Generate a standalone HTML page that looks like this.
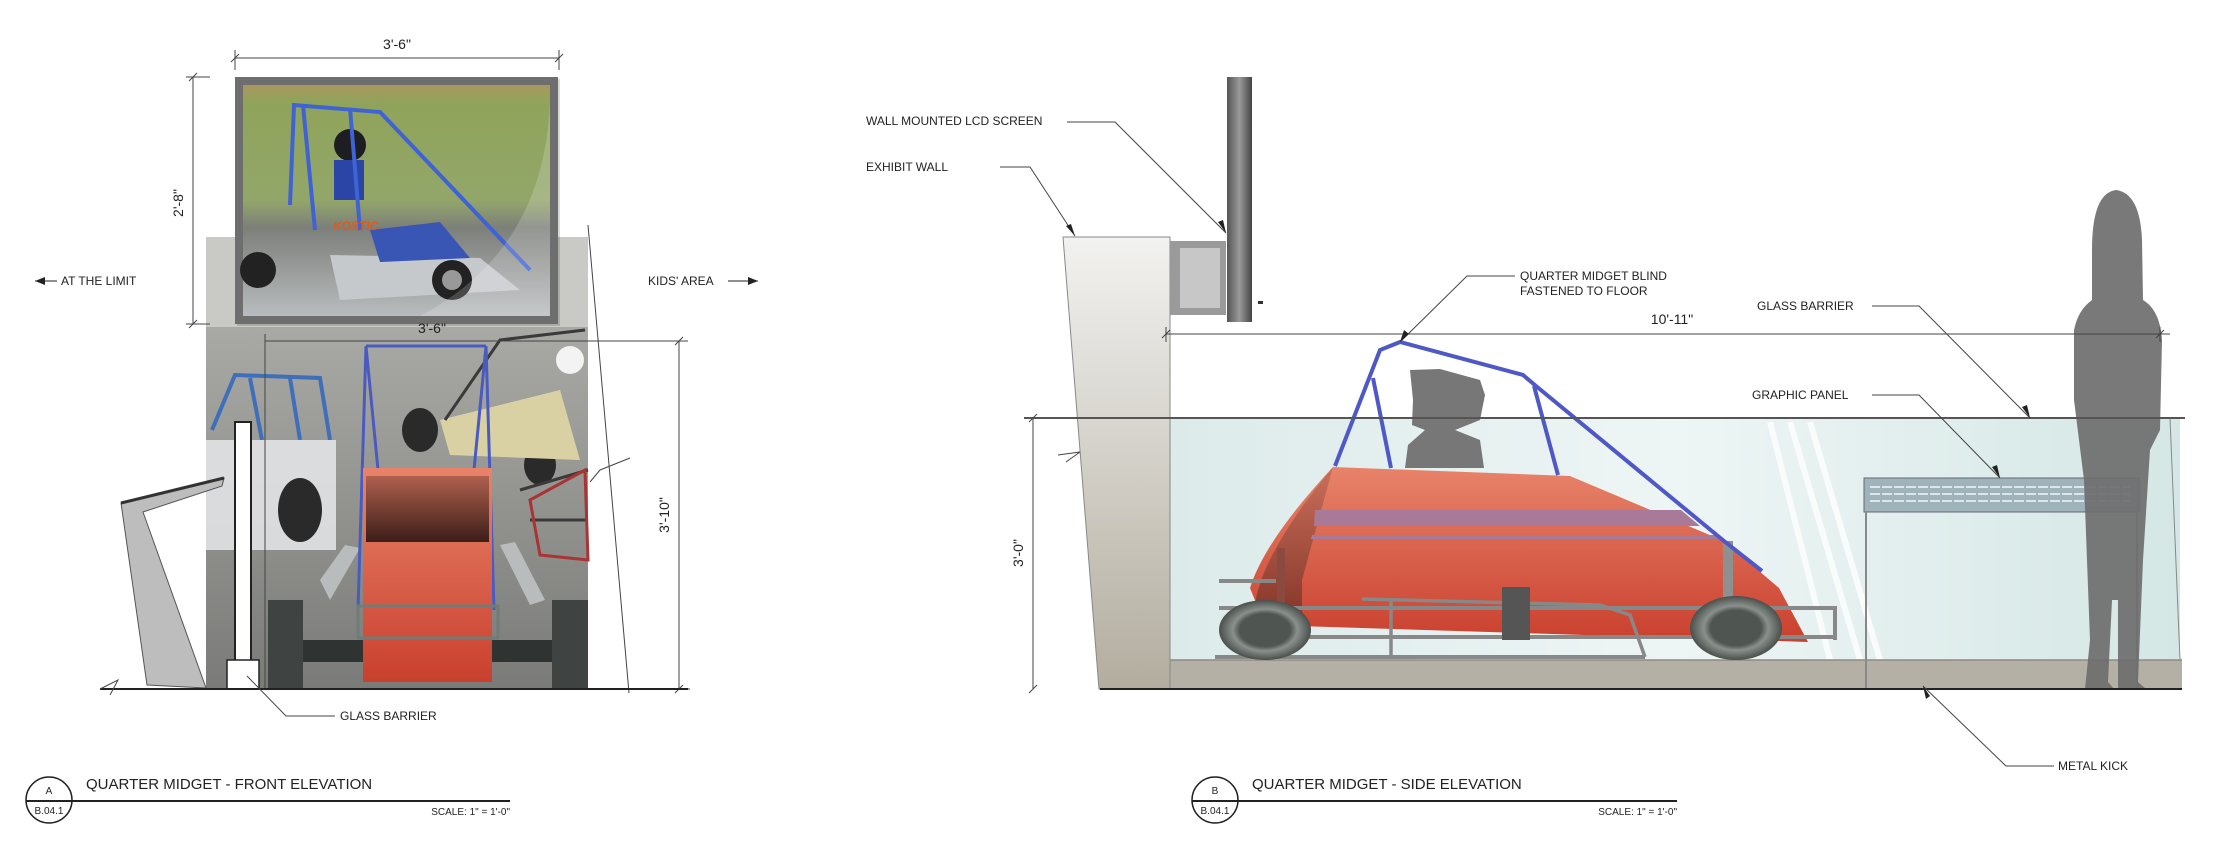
<!DOCTYPE html>
<html><head><meta charset="utf-8"><style>
html,body{margin:0;padding:0;background:#fff;}
svg{display:block;font-family:"Liberation Sans",Arial,sans-serif;}
</style></head><body>
<svg width="2228" height="850" viewBox="0 0 2228 850" xmlns="http://www.w3.org/2000/svg">
<defs>
<linearGradient id="bg" x1="0" y1="0" x2="0" y2="1"><stop offset="0" stop-color="#b3b4af"/><stop offset="0.5" stop-color="#989995"/><stop offset="1" stop-color="#7a7b78"/></linearGradient>
<linearGradient id="scr" x1="0" y1="0" x2="0" y2="1"><stop offset="0" stop-color="#a9985e"/><stop offset="0.08" stop-color="#8fa45a"/><stop offset="0.5" stop-color="#93a66a"/><stop offset="0.62" stop-color="#7c7f7a"/><stop offset="1" stop-color="#b9bcbe"/></linearGradient>
<linearGradient id="red" x1="0" y1="0" x2="0" y2="1"><stop offset="0" stop-color="#e8836a"/><stop offset="1" stop-color="#c9402e"/></linearGradient>
<linearGradient id="redd" x1="0" y1="0" x2="0" y2="1"><stop offset="0" stop-color="#b0604e"/><stop offset="1" stop-color="#3b1e18"/></linearGradient>
<linearGradient id="wall" x1="0" y1="0" x2="0" y2="1"><stop offset="0" stop-color="#f2f2f0"/><stop offset="1" stop-color="#b3ad9f"/></linearGradient>
<linearGradient id="glass" x1="0" y1="0" x2="1" y2="0"><stop offset="0" stop-color="#dcebea"/><stop offset="0.5" stop-color="#eef5f5"/><stop offset="1" stop-color="#d4e7e5"/></linearGradient>
<linearGradient id="scrn" x1="0" y1="0" x2="1" y2="0"><stop offset="0" stop-color="#555"/><stop offset="0.5" stop-color="#999"/><stop offset="1" stop-color="#444"/></linearGradient>
<radialGradient id="whl"><stop offset="0.55" stop-color="#4f5551"/><stop offset="0.7" stop-color="#8a918c"/><stop offset="1" stop-color="#4a4f4c"/></radialGradient>
</defs>

<!-- ============ LEFT: FRONT ELEVATION ============ -->
<rect x="206" y="237" width="382" height="452" fill="url(#bg)"/>
<rect x="206" y="237" width="382" height="90" fill="#c9cac5"/>
<g fill="none" stroke="#3f6fb8" stroke-width="4"><path d="M212 430 L235 375 L320 378 L330 440"/><path d="M250 378 L262 440 M290 378 L300 440"/></g>
<rect x="206" y="440" width="130" height="110" fill="#e6e8ea" opacity="0.85"/>
<ellipse cx="300" cy="510" rx="22" ry="32" fill="#2a2a2a"/>
<ellipse cx="420" cy="430" rx="18" ry="22" fill="#2a2a2a"/>
<ellipse cx="540" cy="465" rx="16" ry="20" fill="#2a2a2a"/>
<path d="M440 420 L560 390 L580 460 L450 455 Z" fill="#d9d1a4"/>
<g fill="none" stroke="#3a3a3a" stroke-width="3"><path d="M445 420 L500 340 L585 330"/><path d="M520 490 L588 470 M530 520 L588 520"/></g>
<g fill="none" stroke="#a33" stroke-width="3"><path d="M530 500 L585 470 L588 560 L540 555 Z"/></g>
<circle cx="570" cy="360" r="14" fill="#f3f3f3"/>
<path d="M121 503 L224 478 L222 486 L143 512 L206 688 L147 685 Z" fill="#bdbdbd" stroke="#555" stroke-width="1"/>
<path d="M121 503 L224 478" stroke="#333" stroke-width="3"/>
<rect x="235" y="422" width="16" height="250" fill="#fff" stroke="#222" stroke-width="2"/>
<rect x="227" y="660" width="32" height="29" fill="#fff" stroke="#222" stroke-width="1.5"/>
<rect x="268" y="600" width="35" height="89" fill="#3f4442"/>
<rect x="552" y="600" width="36" height="89" fill="#3f4442"/>
<rect x="303" y="640" width="249" height="22" fill="#2f3432"/>
<path d="M320 580 L345 545 L360 548 L330 600 Z" fill="#b8bcbc"/>
<path d="M500 545 L515 542 L545 600 L530 605 Z" fill="#b8bcbc"/>
<path d="M366 346 L378 470 M486 346 L474 470 M366 346 L486 346 M366 346 L358 610 M486 346 L494 610" stroke="#4a5bc0" stroke-width="3" fill="none"/>
<rect x="363" y="468" width="129" height="214" fill="url(#red)"/>
<rect x="366" y="476" width="123" height="66" fill="url(#redd)"/>
<rect x="358" y="606" width="140" height="32" fill="none" stroke="#6f7c78" stroke-width="3"/>
<path d="M588 225 L629 693 M600 470 L630 458 M590 482 L600 470" stroke="#444" stroke-width="1" fill="none"/>
<!-- screen -->
<rect x="237" y="79" width="323" height="247" fill="#000" opacity="0.15"/>
<rect x="235" y="77" width="323" height="247" fill="#6e6e6e"/>
<rect x="243" y="85" width="307" height="231" fill="url(#scr)"/>
<path d="M330 255 L480 258 L520 290 L340 300 Z" fill="#c6c9cc"/>
<path d="M370 230 L440 222 L470 258 L380 262 Z" fill="#3a56b4"/>
<circle cx="350" cy="145" r="16" fill="#1d1d22"/>
<rect x="334" y="160" width="30" height="40" fill="#2a45a5"/>
<g fill="none" stroke="#3f63d4" stroke-width="4"><path d="M290 205 L294 105 L380 112 L440 175 L530 270"/><path d="M303 105 L315 230 M350 108 L360 230"/></g>
<text x="333" y="230" font-size="12" font-weight="bold" font-style="italic" fill="#e05a1a">KOSTIC</text>
<circle cx="452" cy="280" r="20" fill="#222"/><circle cx="452" cy="280" r="10" fill="#999"/>
<circle cx="258" cy="270" r="18" fill="#222"/>
<path d="M420 316 Q545 250 550 100 L550 316 Z" fill="#fff" opacity="0.18"/>
<g stroke="#444" stroke-width="1" fill="none">
<path d="M235 58 L559 58 M235 50 L235 70 M559 50 L559 70 M231 62 L239 54 M555 62 L563 54"/>
<path d="M193 77 L193 324 M186 77 L210 77 M186 324 L210 324 M189 81 L197 73 M189 328 L197 320"/>
<path d="M265 341 L688 341 M265 334 L265 690 M679 341 L679 689 M660 689 L690 689 M675 345 L683 337 M675 693 L683 685"/>
<path d="M100 689 L688 689" stroke="#222" stroke-width="2"/>
<path d="M100 689 L118 680 L110 695"/>
<path d="M247 676 L286 716 L335 716"/>
</g>
<text x="397" y="49" font-size="14" text-anchor="middle" fill="#222">3'-6"</text>
<text x="432" y="333" font-size="14" text-anchor="middle" fill="#222">3'-6"</text>
<text transform="translate(183,203) rotate(-90)" font-size="14" text-anchor="middle" fill="#222">2'-8"</text>
<text transform="translate(669,515) rotate(-90)" font-size="14" text-anchor="middle" fill="#222">3'-10"</text>
<path d="M35 281 L57 281" stroke="#222" stroke-width="1"/><path d="M35 281 L45 277 L45 285 Z" fill="#222"/>
<text x="61" y="285" font-size="12" fill="#222">AT THE LIMIT</text>
<text x="648" y="285" font-size="12" fill="#222">KIDS' AREA</text>
<path d="M728 281 L758 281" stroke="#222" stroke-width="1"/><path d="M758 281 L748 277 L748 285 Z" fill="#222"/>
<text x="340" y="720" font-size="12" fill="#222">GLASS BARRIER</text>
<circle cx="49" cy="800" r="23" fill="#fff" stroke="#222" stroke-width="1.5"/>
<path d="M26 801 L510 801" stroke="#222" stroke-width="2"/>
<text x="49" y="794" font-size="10" text-anchor="middle" fill="#222">A</text>
<text x="49" y="814" font-size="10" text-anchor="middle" fill="#222">B.04.1</text>
<text x="86" y="789" font-size="15" fill="#222">QUARTER MIDGET - FRONT ELEVATION</text>
<text x="510" y="815" font-size="10" text-anchor="end" fill="#222">SCALE: 1" = 1'-0"</text>

<!-- ============ RIGHT: SIDE ELEVATION ============ -->
<rect x="1170" y="418" width="1010" height="245" fill="url(#glass)"/>
<path d="M1770 422 L1830 660 M1790 422 L1860 660 M1810 422 L1880 660" stroke="#fff" stroke-width="6" opacity="0.8"/>
<path d="M2170 418 L2180 660" stroke="#888" stroke-width="1"/>
<rect x="1170" y="660" width="1012" height="29" fill="#b4b0a6"/>
<path d="M1170 660 L2182 660" stroke="#8d8a82" stroke-width="1.5"/>
<path d="M1063 237 L1170 237 L1170 689 L1099 689 Z" fill="url(#wall)" stroke="#888" stroke-width="1"/>
<path d="M1058 455 L1080 452 L1066 462" stroke="#444" fill="none"/>
<rect x="1170" y="241" width="56" height="74" fill="#9a9a9a"/>
<rect x="1180" y="248" width="40" height="60" fill="#c7c7c7"/>
<rect x="1227" y="77" width="25" height="245" fill="url(#scrn)"/>
<rect x="1258" y="301" width="5" height="3" fill="#333"/>
<path d="M1410 370 L1440 369 L1480 380 L1485 395 L1480 420 L1455 430 L1480 440 L1484 468 L1405 468 L1408 445 L1425 430 L1412 425 L1413 400 Z" fill="#777"/>
<path d="M1265 625 L1808 642 L1779 588 L1724 541 L1570 476 L1333 467 Q1265 540 1250 588 Z" fill="url(#red)"/>
<path d="M1333 467 L1302 580 L1302 642 L1257 632 Q1240 580 1333 467 Z" fill="url(#redd)" opacity="0.55"/>
<path d="M1315 510 L1681 510 L1700 526 L1314 526 Z" fill="#a97a98"/>
<path d="M1312 535 L1718 535 L1722 539 L1311 539 Z" fill="#a97a98"/>
<path d="M1219 581 L1276 581 M1219 608 L1835 608 M1255 637 L1835 637 M1215 657 L1645 657 M1798 608 L1835 608 M1835 606 L1835 640" stroke="#888" stroke-width="4" fill="none"/>
<path d="M1362 599 L1600 605 L1630 615 L1645 657 M1391 600 L1391 657" stroke="#888" stroke-width="3.5" fill="none"/>
<rect x="1502" y="587" width="28" height="53" fill="#555"/>
<rect x="1277" y="548" width="8" height="60" fill="#8a4a40"/>
<rect x="1723" y="541" width="10" height="65" fill="#8d908e"/>
<path d="M1335 466 L1380 350 L1400 342 L1523 375 L1536 386 L1724 541 L1762 571 M1373 378 L1391 468 M1534 386 L1558 475" stroke="#4e58c6" stroke-width="4" fill="none"/>
<ellipse cx="1265" cy="630" rx="46" ry="30" fill="url(#whl)"/>
<ellipse cx="1736" cy="628" rx="46" ry="32" fill="url(#whl)"/>
<rect x="1864" y="478" width="275" height="34" fill="#9fb4ba" stroke="#667" stroke-width="1"/>
<path d="M1870 487 L2130 487 M1870 494 L2130 494 M1870 501 L2130 501" stroke="#dfe6ea" stroke-width="2" stroke-dasharray="10 2"/>
<path d="M1866 512 L1866 689 M2137 512 L2137 689" stroke="#888" stroke-width="2"/>
<path d="M2116 190 Q2140 193 2142 240 L2143 300 Q2160 310 2162 340 L2160 430 L2150 450 L2143 560 L2138 682 L2146 689 L2118 689 L2118 600 L2112 600 L2108 682 L2114 689 L2085 689 L2090 640 L2084 480 L2074 400 L2074 330 Q2078 310 2092 300 L2092 250 Q2092 193 2116 190 Z" fill="#6e6e6e" opacity="0.92"/>
<g stroke="#444" stroke-width="1" fill="none">
<path d="M1024 418 L2185 418" stroke="#555" stroke-width="2"/>
<path d="M1100 689 L2182 689" stroke="#222" stroke-width="2"/>
<path d="M1166 334 L2170 334 M1166 327 L1166 342 M2160 327 L2160 342 M1162 338 L1170 330 M2156 338 L2164 330"/>
<path d="M1033 418 L1033 689 M1029 422 L1037 414 M1029 693 L1037 685"/>
<path d="M1067 122 L1115 122 L1226 233"/>
<path d="M1000 167 L1030 167 L1075 236"/>
<path d="M1515 276 L1467 276 L1400 342"/>
<path d="M1872 306 L1919 306 L2030 418"/>
<path d="M1872 395 L1919 395 L2000 478"/>
<path d="M2054 766 L2006 766 L1923 686"/>
</g>
<g fill="#222"><path d="M1226 233 L1218 222 L1223 220 Z"/><path d="M1075 236 L1066 226 L1071 224 Z"/><path d="M1400 342 L1404 330 L1409 334 Z"/><path d="M2030 418 L2022 407 L2027 405 Z"/><path d="M2000 478 L1992 467 L1997 465 Z"/><path d="M1923 686 L1930 696 L1926 699 Z"/></g>
<text x="866" y="125" font-size="12" fill="#222">WALL MOUNTED LCD SCREEN</text>
<text x="866" y="171" font-size="12" fill="#222">EXHIBIT WALL</text>
<text x="1520" y="280" font-size="12" fill="#222">QUARTER MIDGET BLIND</text>
<text x="1520" y="295" font-size="12" fill="#222">FASTENED TO FLOOR</text>
<text x="1672" y="324" font-size="14" text-anchor="middle" fill="#222">10'-11"</text>
<text x="1757" y="310" font-size="12" fill="#222">GLASS BARRIER</text>
<text x="1752" y="399" font-size="12" fill="#222">GRAPHIC PANEL</text>
<text x="2058" y="770" font-size="12" fill="#222">METAL KICK</text>
<text transform="translate(1023,553) rotate(-90)" font-size="14" text-anchor="middle" fill="#222">3'-0"</text>
<circle cx="1215" cy="800" r="23" fill="#fff" stroke="#222" stroke-width="1.5"/>
<path d="M1192 801 L1677 801" stroke="#222" stroke-width="2"/>
<text x="1215" y="794" font-size="10" text-anchor="middle" fill="#222">B</text>
<text x="1215" y="814" font-size="10" text-anchor="middle" fill="#222">B.04.1</text>
<text x="1252" y="789" font-size="15" fill="#222">QUARTER MIDGET - SIDE ELEVATION</text>
<text x="1677" y="815" font-size="10" text-anchor="end" fill="#222">SCALE: 1" = 1'-0"</text>
</svg>
</body></html>
